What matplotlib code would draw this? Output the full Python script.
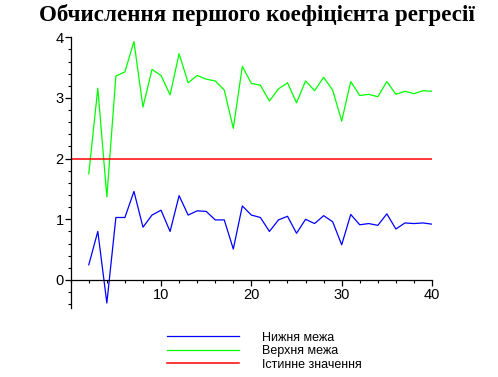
import matplotlib.pyplot as plt
import numpy as np
from matplotlib.ticker import MultipleLocator

# ---------------------------------------------------------------- data
n_obs = list(range(2, 41))
lower = [0.25, 0.80, -0.38, 1.03, 1.03, 1.46, 0.87, 1.07, 1.15, 0.80,
         1.39, 1.07, 1.14, 1.13, 0.99, 0.99, 0.51, 1.22, 1.07, 1.03,
         0.80, 0.99, 1.05, 0.77, 1.00, 0.93, 1.06, 0.96, 0.58, 1.08,
         0.91, 0.93, 0.90, 1.09, 0.84, 0.94, 0.93, 0.94, 0.92]
upper = [1.75, 3.16, 1.37, 3.36, 3.43, 3.93, 2.85, 3.47, 3.37, 3.05,
         3.73, 3.25, 3.37, 3.31, 3.28, 3.13, 2.50, 3.52, 3.24, 3.21,
         2.95, 3.15, 3.25, 2.92, 3.28, 3.12, 3.34, 3.13, 2.62, 3.27,
         3.04, 3.06, 3.02, 3.27, 3.06, 3.11, 3.07, 3.12, 3.11]
true_x = [0, 40]
true_value = 2.0

labels = ['Нижня межа', 'Верхня межа', 'Істинне значення']
title = 'Обчислення першого коефіцієнта регресії'

# ---------------------------------------------------------------- figure
fig = plt.figure(figsize=(4.98, 3.77), dpi=100)
ax = fig.add_axes([0.142, 0.1817, 0.7255, 0.7194])

ax.plot(n_obs, lower, color='#0000ff', lw=0.9, label=labels[0])
ax.plot(n_obs, upper, color='#00ff00', lw=0.9, label=labels[1])
ax.plot(true_x, [true_value, true_value], color='#ff0000', lw=1.1, label=labels[2])

ax.set_xlim(0, 40)
ax.set_ylim(-0.47, 4)

# axes crossing at the origin, Maple style
ax.spines['left'].set_position(('data', 0))
ax.spines['bottom'].set_position(('data', 0))
ax.spines['top'].set_visible(False)
ax.spines['right'].set_visible(False)
for s in ('left', 'bottom'):
    ax.spines[s].set_linewidth(0.9)

ax.xaxis.set_major_locator(MultipleLocator(10))
ax.xaxis.set_minor_locator(MultipleLocator(2))
ax.yaxis.set_major_locator(MultipleLocator(1))
ax.yaxis.set_minor_locator(MultipleLocator(0.2))
ax.set_xticks([10, 20, 30, 40])
ax.tick_params(which='major', direction='out', length=4, width=0.9,
               labelsize=10.5, pad=2)
ax.tick_params(axis='y', which='major', pad=1)
ax.tick_params(which='minor', direction='out', length=2, width=0.8)
for t in ax.get_xticklabels() + ax.get_yticklabels():
    t.set_family('Liberation Sans')

fig.text(0.516, 0.96, title, ha='center', va='center',
         family='Liberation Serif', weight='bold', fontsize=16.6)

fig.legend(loc='upper left', bbox_to_anchor=(0.335, 0.120), frameon=False,
           prop={'family': 'Liberation Sans', 'size': 9},
           handlelength=5.8, handletextpad=1.8, labelspacing=0.12,
           borderpad=0, borderaxespad=0)

fig.savefig('out.png', dpi=100)
